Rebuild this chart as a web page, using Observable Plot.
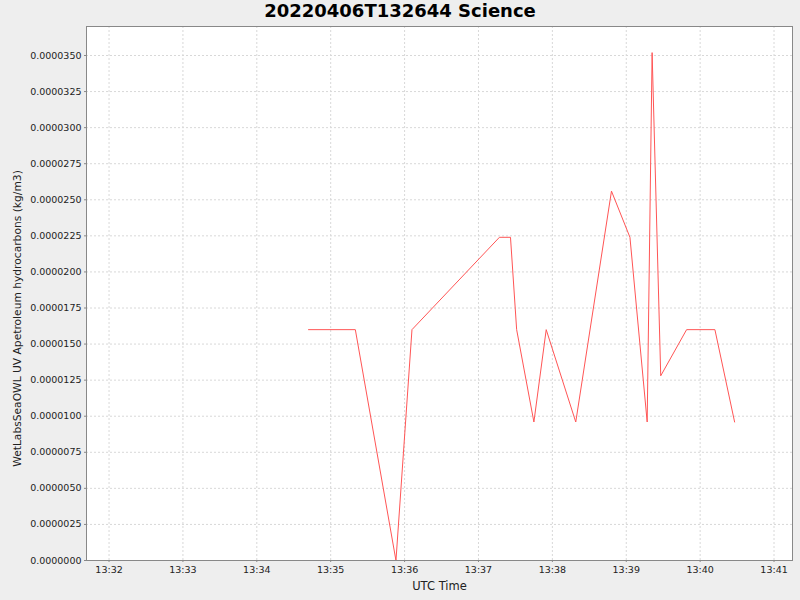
<!DOCTYPE html>
<html>
<head>
<meta charset="utf-8">
<script src="https://cdn.jsdelivr.net/npm/d3@7"></script>
<script src="https://cdn.jsdelivr.net/npm/@observablehq/plot@0.6"></script>
<style>
  html, body { margin: 0; padding: 0; background: #eeeeee; }
  #wrap { width: 800px; height: 600px; overflow: hidden; background: #eeeeee; }
  #title { height: 25px; line-height: 25px; text-align: center; font: bold 18px "DejaVu Sans", sans-serif; color: #000; }
  svg { display: block; }
</style>
</head>
<body>
<div id="wrap">
  <div id="title">20220406T132644 Science</div>
  <div id="chart"></div>
</div>
<script>
const day = "2022-04-06";
const times = ["13:34:42","13:35:20","13:35:53","13:36:06","13:37:17","13:37:26","13:37:31","13:37:45","13:37:55","13:38:19","13:38:48","13:39:03","13:39:17","13:39:21","13:39:28","13:39:49","13:40:12","13:40:28"];
const values = [1.6e-5,1.6e-5,0,1.6e-5,2.24e-5,2.24e-5,1.6e-5,9.6e-6,1.6e-5,9.6e-6,2.56e-5,2.24e-5,9.6e-6,3.52e-5,1.28e-5,1.6e-5,1.6e-5,9.6e-6];
const xTickLabels = ["13:32","13:33","13:34","13:35","13:36","13:37","13:38","13:39","13:40","13:41"];
const yTicks = [0,2.5e-6,5e-6,7.5e-6,1e-5,1.25e-5,1.5e-5,1.75e-5,2e-5,2.25e-5,2.5e-5,2.75e-5,3e-5,3.25e-5,3.5e-5];
const xDomainLabels = ["13:31:41.7","13:41:15"];
const yDomain = [0, 3.701e-5];

const toDate = s => new Date(`${day}T${s}Z`);
const data = times.map((t, i) => ({t: toDate(t), v: values[i]}));
const xTicks = xTickLabels.map(s => toDate(s + ":00"));

const chart = Plot.plot({
  width: 800,
  height: 575,
  marginTop: 1,
  marginBottom: 40,
  marginLeft: 86,
  marginRight: 8,
  style: {background: "transparent", fontFamily: "DejaVu Sans, sans-serif", fontSize: "9.5px", color: "#222"},
  x: {type: "utc", domain: xDomainLabels.map(toDate)},
  y: {domain: yDomain},
  marks: [
    Plot.frame({fill: "white", stroke: "none"}),
    Plot.gridX(xTicks, {stroke: "#d8d8d8", strokeOpacity: 1, strokeDasharray: "2,2"}),
    Plot.gridY(yTicks, {stroke: "#d8d8d8", strokeOpacity: 1, strokeDasharray: "2,2"}),
    Plot.axisX(xTicks, {tickFormat: d3.utcFormat("%H:%M"), tickSize: 2, tickPadding: 4, stroke: "#888",
      label: "UTC Time", labelAnchor: "center", labelArrow: "none", labelOffset: 29, fontSize: 9.5}),
    Plot.axisY(yTicks, {tickFormat: d3.format(".7f"), tickSize: 2, tickPadding: 3, stroke: "#888",
      label: "WetLabsSeaOWL UV Apetroleum hydrocarbons (kg/m3)", labelAnchor: "center", labelArrow: "none", labelOffset: 73, fontSize: 9.5}),
    Plot.line(data, {x: "t", y: "v", stroke: "#ff5555", strokeWidth: 1}),
    Plot.frame({stroke: "#888", fill: "none"})
  ]
});
document.getElementById("chart").appendChild(chart);
chart.querySelectorAll("g[aria-label='x-axis label'] text").forEach(t => t.setAttribute("font-size", "11.5"));
chart.querySelectorAll("g[aria-label='y-axis label']").forEach(g => {
  const existing = g.getAttribute("transform") || "";
  g.setAttribute("transform", `translate(0,25) ${existing}`);
  g.querySelectorAll("text").forEach(t => t.setAttribute("font-size", "10.7"));
});
</script>
</body>
</html>
